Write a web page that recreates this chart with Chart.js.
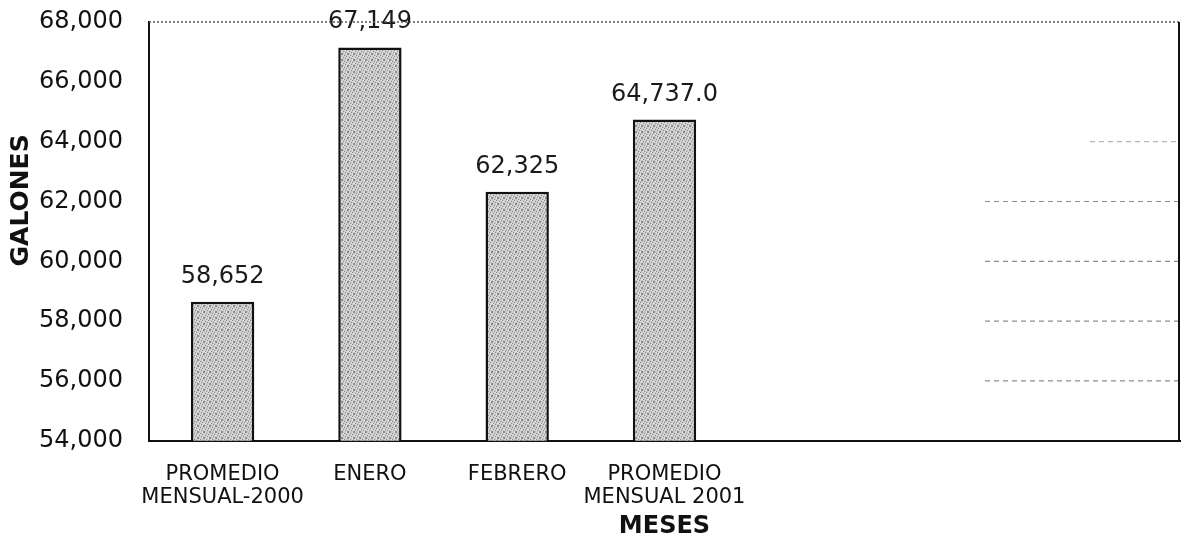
<!DOCTYPE html>
<html lang="es">
<head>
<meta charset="UTF-8">
<title>Consumo en galones</title>
<script src="https://cdn.jsdelivr.net/npm/chart.js"></script>
<style>
  html, body { margin: 0; padding: 0; background: #fff; }
</style>
</head>
<body>
<canvas id="galones" width="1184" height="544"></canvas>

<script>
// categorias del eje X (las tres ultimas quedan vacias, como en el formato original)
const categorias = [["PROMEDIO", "MENSUAL-2000"], "ENERO", "FEBRERO", ["PROMEDIO", "MENSUAL 2001"], "", "", ""];
const galones = [58652, 67149, 62325, 64737];
const decimales = [0, 0, 0, 1];
const ejeMin = 54000;
const ejeMax = 68000;
const ejePaso = 2000;

const fuente = '"DejaVu Sans", "Liberation Sans", Arial, sans-serif';

// relleno punteado gris de las barras
function tramaGris() {
    const c = document.createElement('canvas');
    c.width = 6; c.height = 6;
    const g = c.getContext('2d');
    g.fillStyle = '#c9c9c9';
    g.fillRect(0, 0, 6, 6);
    for (let y = 0; y < 6; y++) {
        for (let x = 0; x < 6; x++) {
            const k = (x * 7 + y * 11) % 5;
            if (k === 0) { g.fillStyle = '#8c8c8c'; g.fillRect(x, y, 1, 1); }
            else if (k === 3) { g.fillStyle = '#e4e4e4'; g.fillRect(x, y, 1, 1); }
        }
    }
    return g.createPattern(c, 'repeat');
}

// valores encima de cada barra
const etiquetasValor = {
    id: 'etiquetasValor',
    afterDatasetsDraw(chart) {
        const ctx = chart.ctx;
        const meta = chart.getDatasetMeta(0);
        ctx.save();
        ctx.font = '24px ' + fuente;
        ctx.fillStyle = '#1a1a1a';
        ctx.textAlign = 'center';
        ctx.textBaseline = 'alphabetic';
        meta.data.forEach((bar, i) => {
            if (galones[i] == null) return;
            const txt = galones[i].toLocaleString('en-US', {
                minimumFractionDigits: decimales[i],
                maximumFractionDigits: decimales[i]
            });
            ctx.fillText(txt, bar.x, bar.y - 19);
        });
        ctx.restore();
    }
};

// marco: borde superior punteado, borde derecho y restos de lineas de division
const marco = {
    id: 'marco',
    beforeDatasetsDraw(chart) {
        const {ctx, chartArea: a, scales} = chart;
        ctx.save();
        ctx.strokeStyle = 'rgba(0,0,0,0.45)';
        ctx.lineWidth = 1.2;
        ctx.setLineDash([5, 4]);
        [56000, 58000, 60000, 62000].forEach(v => {
            const y = scales.y.getPixelForValue(v);
            ctx.beginPath();
            ctx.moveTo(a.right - 195, y);
            ctx.lineTo(a.right, y);
            ctx.stroke();
        });
        const y64 = scales.y.getPixelForValue(64000);
        ctx.strokeStyle = 'rgba(0,0,0,0.3)';
        ctx.beginPath();
        ctx.moveTo(a.right - 90, y64);
        ctx.lineTo(a.right, y64);
        ctx.stroke();
        ctx.restore();
    },
    afterDraw(chart) {
        const {ctx, chartArea: a} = chart;
        ctx.save();
        ctx.strokeStyle = '#555';
        ctx.lineWidth = 1.5;
        ctx.setLineDash([2, 2]);
        ctx.beginPath();
        ctx.moveTo(a.left, a.top);
        ctx.lineTo(a.right, a.top);
        ctx.stroke();
        ctx.setLineDash([]);
        ctx.strokeStyle = '#111';
        ctx.lineWidth = 2;
        ctx.beginPath();
        ctx.moveTo(a.right - 1, a.top);
        ctx.lineTo(a.right - 1, a.bottom);
        ctx.stroke();
        ctx.restore();
    }
};

// titulos de los ejes
const titulosEjes = {
    id: 'titulosEjes',
    afterDraw(chart) {
        const {ctx, chartArea: a} = chart;
        ctx.save();
        ctx.fillStyle = '#111';
        ctx.textAlign = 'center';
        ctx.textBaseline = 'middle';
        ctx.font = 'bold 24px ' + fuente;
        ctx.fillText('MESES', (a.left + a.right) / 2, a.bottom + 86);
        ctx.translate(21, (a.top + a.bottom) / 2 - 31);
        ctx.rotate(-Math.PI / 2);
        ctx.font = 'bold 25px ' + fuente;
        ctx.fillText('GALONES', 0, 0);
        ctx.restore();
    }
};

const ctx = document.getElementById('galones').getContext('2d');

new Chart(ctx, {
    type: 'bar',
    data: {
        labels: categorias,
        datasets: [{
            data: galones,
            backgroundColor: tramaGris(),
            borderColor: '#111',
            borderWidth: 2.5,
            categoryPercentage: 1,
            barPercentage: 0.43
        }]
    },
    options: {
        responsive: false,
        animation: false,
        layout: { padding: { left: 39, top: 22, right: 4, bottom: 13 } },
        plugins: {
            legend: { display: false },
            tooltip: { enabled: false }
        },
        scales: {
            x: {
                grid: { display: false, drawTicks: false },
                border: { color: '#111', width: 2 },
                ticks: {
                    color: '#111',
                    padding: 22,
                    maxRotation: 0,
                    autoSkip: false,
                    font: { family: fuente, size: 21, lineHeight: 1.1 }
                }
            },
            y: {
                min: ejeMin,
                max: ejeMax,
                grid: { display: false, drawTicks: false },
                border: { color: '#111', width: 2 },
                ticks: {
                    stepSize: ejePaso,
                    color: '#111',
                    padding: 13,
                    crossAlign: 'far',
                    font: { family: fuente, size: 24, lineHeight: 0.7 },
                    callback: v => v.toLocaleString('en-US')
                }
            }
        }
    },
    plugins: [marco, etiquetasValor, titulosEjes]
});
</script>
</body>
</html>
